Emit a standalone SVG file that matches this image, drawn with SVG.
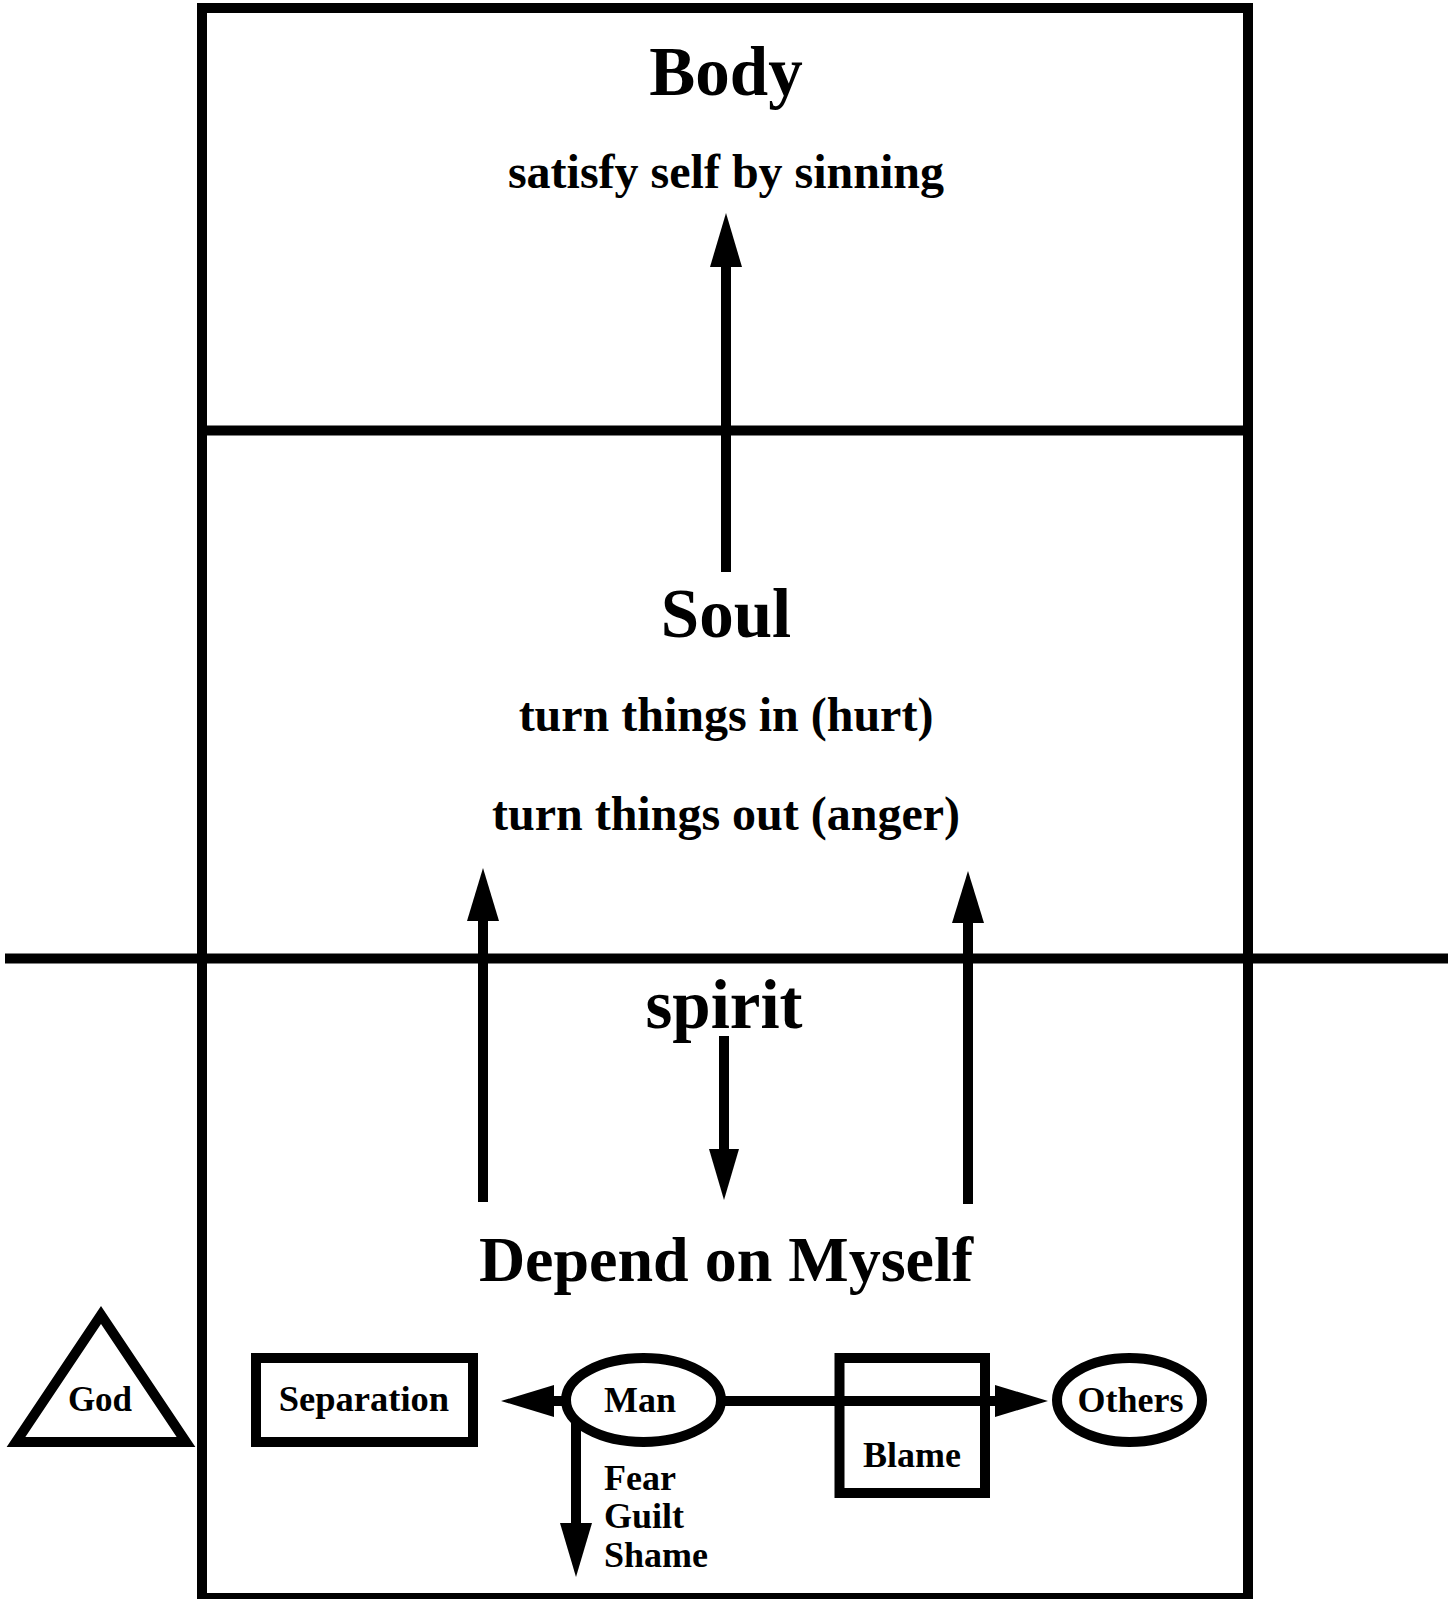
<svg xmlns="http://www.w3.org/2000/svg" width="1453" height="1599" viewBox="0 0 1453 1599">
<style>
.ln{stroke:#000;stroke-width:10;fill:none}
.sh{fill:#fff;stroke:#000;stroke-width:10}
.t{font-family:"Liberation Serif","Times New Roman",serif;font-weight:bold;fill:#000}
.h{font-size:69px;text-anchor:middle}
.s{font-size:48px;text-anchor:middle}
.n{font-size:36px;text-anchor:middle}
.l{font-size:36px}
.ah{fill:#000;stroke:none}
</style>
<rect width="1453" height="1599" fill="#fff"/>
<g id="frame">
<rect x="202" y="8" width="1046" height="1590" class="ln"/>
<line x1="202" y1="430.5" x2="1248" y2="430.5" class="ln"/>
<line x1="5" y1="958.5" x2="1448" y2="958.5" class="ln" stroke-width="11"/>
</g>
<g id="connectors">
<line x1="726" y1="572" x2="726" y2="262" class="ln"/>
<polygon class="ah" points="726,213 710,267 742,267"/>
<line x1="483" y1="1202" x2="483" y2="916" class="ln"/>
<polygon class="ah" points="483,868 467,921 499,921"/>
<line x1="968" y1="1204" x2="968" y2="918" class="ln"/>
<polygon class="ah" points="968,871 952,923 984,923"/>
<line x1="724" y1="1036" x2="724" y2="1154" class="ln"/>
<polygon class="ah" points="724,1200 709,1149 739,1149"/>
<line x1="568" y1="1401" x2="549" y2="1401" class="ln"/>
<polygon class="ah" points="501,1401 554,1385 554,1417"/>
<line x1="722" y1="1401" x2="1000" y2="1401" class="ln"/>
<polygon class="ah" points="1048,1401 995,1385 995,1417"/>
<line x1="576" y1="1418" x2="576" y2="1528" class="ln"/>
<polygon class="ah" points="576,1577 560,1523 592,1523"/>
</g>
<g id="body">
<text class="t h" x="726" y="95">Body</text>
<text class="t s" x="726" y="188">satisfy self by sinning</text>
</g>
<g id="soul">
<text class="t h" x="726" y="637">Soul</text>
<text class="t s" x="726" y="731">turn things in (hurt)</text>
<text class="t s" x="726" y="830">turn things out (anger)</text>
</g>
<g id="spirit">
<text class="t h" x="724" y="1028">spirit</text>
</g>
<g id="depend">
<text class="t h" x="726" y="1281" style="font-size:64px">Depend on Myself</text>
</g>
<g id="god">
<polygon class="sh" points="16,1442 186,1442 101,1315"/>
<text class="t n" x="100" y="1411" style="font-size:35px">God</text>
</g>
<g id="separation">
<rect class="sh" x="256" y="1358" width="217" height="84"/>
<text class="t n" x="364" y="1411" style="font-size:36.5px">Separation</text>
</g>
<g id="blame">
<rect class="ln" x="839.5" y="1358" width="145.5" height="135"/>
<text class="t n" x="912" y="1467">Blame</text>
</g>
<g id="man">
<ellipse class="sh" cx="643.5" cy="1400" rx="77.5" ry="42"/>
<text class="t n" x="640" y="1412">Man</text>
</g>
<g id="others">
<ellipse class="sh" cx="1129.5" cy="1400" rx="72.5" ry="42"/>
<text class="t n" x="1130.5" y="1412">Others</text>
</g>
<g id="feelings">
<text class="t l" x="604" y="1490">Fear</text>
<text class="t l" x="604" y="1528">Guilt</text>
<text class="t l" x="604" y="1567">Shame</text>
</g>
</svg>
